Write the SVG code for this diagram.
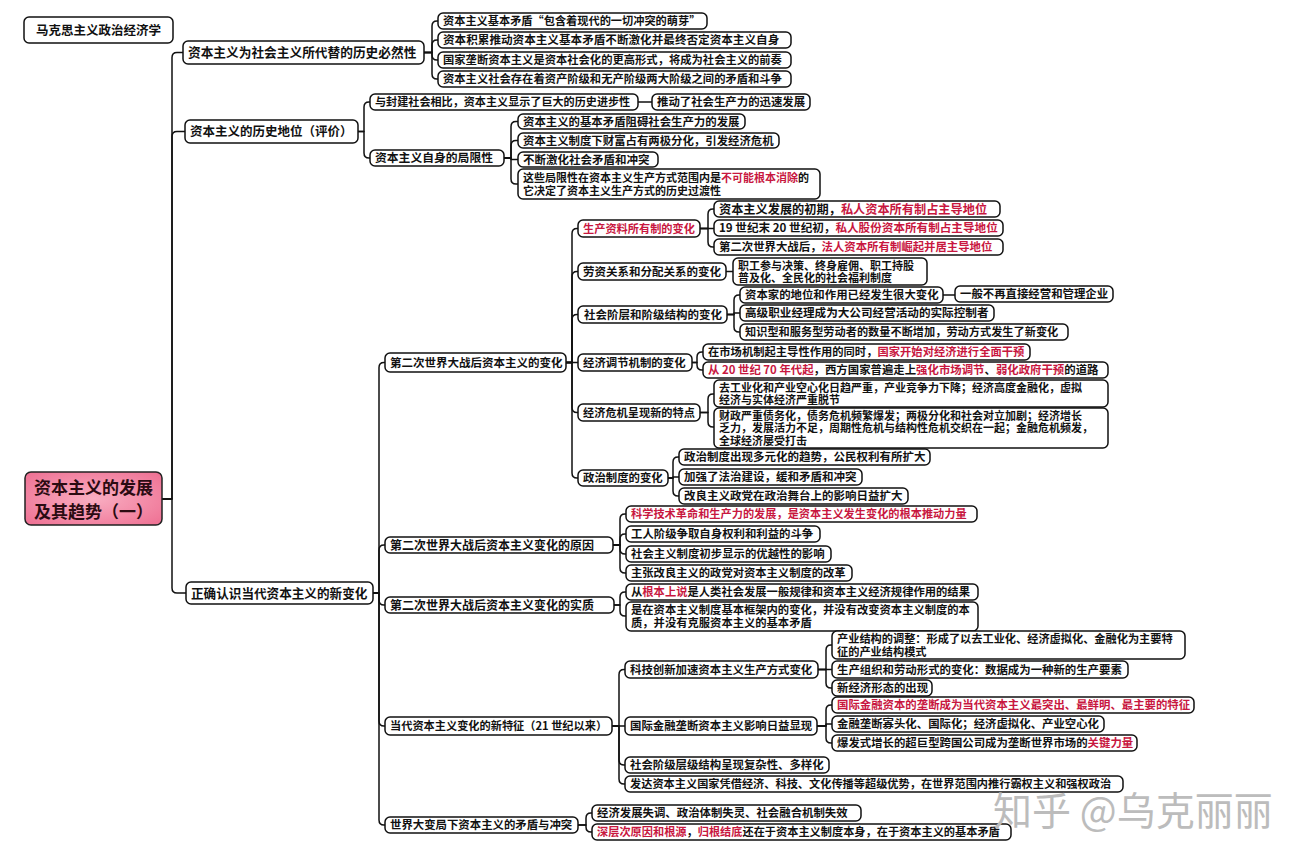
<svg xmlns="http://www.w3.org/2000/svg" width="1309" height="864" viewBox="0 0 1309 864">
<defs>
<radialGradient id="pink" cx="50%" cy="50%" r="70%">
<stop offset="0" stop-color="#f9aec2"/>
<stop offset="1" stop-color="#ee6f92"/>
</radialGradient>
<style>
.b{fill:#fff;stroke:#111;stroke-width:1.5}
.t{font-family:"Noto Sans CJK SC","Noto Sans",sans-serif;font-weight:700;fill:#111}
.r{fill:#c8173f}
.c{fill:none;stroke:#111;stroke-width:1.5;stroke-linecap:round;stroke-linejoin:round}
.wm{font-family:"Noto Sans CJK SC","Noto Sans",sans-serif;font-weight:400;fill:#bcbcbc}
</style>
</defs>
<rect width="1309" height="864" fill="#fff"/>

<g id="connectors">
<path class="c" d="M162,499 H172 V57.5 Q172,52.5 177,52.5 H183"/>
<path class="c" d="M162,499 H172 V136.5 Q172,131.5 177,131.5 H185"/>
<path class="c" d="M162,499 H172 V588 Q172,593 177,593 H186"/>
<path class="c" d="M424,52.5 H432 V26 Q432,21 437,21 H438"/>
<path class="c" d="M424,52.5 H432 V45 Q432,40 437,40 H438"/>
<path class="c" d="M424,52.5 H432 V55 Q432,60 437,60 H438"/>
<path class="c" d="M424,52.5 H432 V74 Q432,79 437,79 H438"/>
<path class="c" d="M358,131.5 H364 V107 Q364,102 369,102 H370"/>
<path class="c" d="M358,131.5 H364 V153 Q364,158 369,158 H370"/>
<path class="c" d="M638,102 H652"/>
<path class="c" d="M504,158 H511 V126.5 Q511,121.5 516,121.5 H518"/>
<path class="c" d="M504,158 H511 V145.5 Q511,140.5 516,140.5 H518"/>
<path class="c" d="M504,158 H511 V159.5 H518"/>
<path class="c" d="M504,158 H511 V179 Q511,184 516,184 H518"/>
<path class="c" d="M373,593 H379 V367.5 Q379,362.5 384,362.5 H385"/>
<path class="c" d="M373,593 H379 V550 Q379,545 384,545 H385"/>
<path class="c" d="M373,593 H379 V600 Q379,605 384,605 H385"/>
<path class="c" d="M373,593 H379 V721 Q379,726 384,726 H385"/>
<path class="c" d="M373,593 H379 V820 Q379,825 384,825 H385"/>
<path class="c" d="M566,362.5 H572 V233.5 Q572,228.5 577,228.5 H578"/>
<path class="c" d="M566,362.5 H572 V276.5 Q572,271.5 577,271.5 H578"/>
<path class="c" d="M566,362.5 H572 V319.5 Q572,314.5 577,314.5 H578"/>
<path class="c" d="M566,362.5 H578"/>
<path class="c" d="M566,362.5 H572 V407.5 Q572,412.5 577,412.5 H578"/>
<path class="c" d="M566,362.5 H572 V473 Q572,478 577,478 H578"/>
<path class="c" d="M700,228.5 H708 V214 Q708,209 713,209 H714"/>
<path class="c" d="M700,228.5 H714"/>
<path class="c" d="M700,228.5 H708 V242 Q708,247 713,247 H714"/>
<path class="c" d="M726,271.5 H733"/>
<path class="c" d="M727,314.5 H734 V300 Q734,295 739,295 H740"/>
<path class="c" d="M727,314.5 H734 V313 H740"/>
<path class="c" d="M727,314.5 H734 V327 Q734,332 739,332 H740"/>
<path class="c" d="M943,295 H955"/>
<path class="c" d="M692,362.5 H697 V357 Q697,352 702,352 H703"/>
<path class="c" d="M692,362.5 H697 V365 Q697,370 702,370 H703"/>
<path class="c" d="M700,412.5 H708 V399 Q708,394 713,394 H714"/>
<path class="c" d="M700,412.5 H708 V422 Q708,427 713,427 H714"/>
<path class="c" d="M668,478 H673 V462 Q673,457 678,457 H679"/>
<path class="c" d="M668,478 H673 V477 H679"/>
<path class="c" d="M668,478 H673 V491 Q673,496 678,496 H679"/>
<path class="c" d="M613,545 H620 V519 Q620,514 625,514 H626"/>
<path class="c" d="M613,545 H620 V539 Q620,534 625,534 H626"/>
<path class="c" d="M613,545 H620 V549 Q620,554 625,554 H626"/>
<path class="c" d="M613,545 H620 V568 Q620,573 625,573 H626"/>
<path class="c" d="M614,605 H620 V597 Q620,592 625,592 H626"/>
<path class="c" d="M614,605 H620 V611 Q620,616 625,616 H626"/>
<path class="c" d="M612,726 H619 V674.5 Q619,669.5 624,669.5 H625"/>
<path class="c" d="M612,726 H625"/>
<path class="c" d="M612,726 H619 V760 Q619,765 624,765 H625"/>
<path class="c" d="M612,726 H619 V779 Q619,784 624,784 H625"/>
<path class="c" d="M818,669.5 H826 V650 Q826,645 831,645 H832"/>
<path class="c" d="M818,669.5 H832"/>
<path class="c" d="M818,669.5 H826 V683 Q826,688 831,688 H832"/>
<path class="c" d="M817,726 H826 V710 Q826,705 831,705 H832"/>
<path class="c" d="M817,726 H826 V724 H832"/>
<path class="c" d="M817,726 H826 V738 Q826,743 831,743 H832"/>
<path class="c" d="M578,825 H586 V818 Q586,813 591,813 H592"/>
<path class="c" d="M578,825 H586 V827 Q586,832 591,832 H592"/>
</g>

<g id="title"><rect class="b" x="24" y="17" width="149" height="26" rx="5"/><text class="t" x="98.5" y="35" font-size="12.5" text-anchor="middle">马克思主义政治经济学</text></g>

<g id="root"><rect x="25" y="472" width="137" height="53" rx="6" fill="url(#pink)" stroke="#222" stroke-width="1.5"/>
<text class="t" font-size="17" text-anchor="middle" style="fill:#2b0b12"><tspan x="93.5" y="494">资本主义的发展</tspan><tspan x="93.5" y="518">及其趋势（一）</tspan></text></g>

<g id="n1"><rect class="b" x="183" y="41" width="241" height="23" rx="5"/><text class="t" x="188" y="57.3" font-size="12.7">资本主义为社会主义所代替的历史必然性</text></g>
<g id="n1a"><rect class="b" x="438" y="13" width="269" height="16" rx="5"/><text class="t" x="443" y="25.3" font-size="11.2">资本主义基本矛盾“包含着现代的一切冲突的萌芽”</text></g>
<g id="n1b"><rect class="b" x="438" y="32" width="353" height="16" rx="5"/><text class="t" x="443" y="44.4" font-size="11.6">资本积累推动资本主义基本矛盾不断激化并最终否定资本主义自身</text></g>
<g id="n1c"><rect class="b" x="438" y="52" width="353" height="16" rx="5"/><text class="t" x="443" y="64.3" font-size="11.3">国家垄断资本主义是资本社会化的更高形式，将成为社会主义的前奏</text></g>
<g id="n1d"><rect class="b" x="438" y="71" width="353" height="16" rx="5"/><text class="t" x="443" y="83.3" font-size="11.3">资本主义社会存在着资产阶级和无产阶级两大阶级之间的矛盾和斗争</text></g>

<g id="n2"><rect class="b" x="185" y="120" width="173" height="23" rx="5"/><text class="t" x="190" y="136.3" font-size="12.5">资本主义的历史地位（评价）</text></g>
<g id="n2a"><rect class="b" x="370" y="94" width="268" height="16" rx="5"/><text class="t" x="375" y="106.3" font-size="11.1">与封建社会相比，资本主义显示了巨大的历史进步性</text></g>
<g id="n2a1"><rect class="b" x="652" y="94" width="158" height="16" rx="5"/><text class="t" x="657" y="106.3" font-size="11.4">推动了社会生产力的迅速发展</text></g>
<g id="n2b"><rect class="b" x="370" y="150" width="134" height="16" rx="5"/><text class="t" x="375" y="162.4" font-size="11.8">资本主义自身的局限性</text></g>
<g id="n2b1"><rect class="b" x="518" y="114" width="227" height="15" rx="5"/><text class="t" x="523" y="125.8" font-size="11.4">资本主义的基本矛盾阻碍社会生产力的发展</text></g>
<g id="n2b2"><rect class="b" x="518" y="133" width="261" height="15" rx="5"/><text class="t" x="523" y="144.8" font-size="11.4">资本主义制度下财富占有两极分化，引发经济危机</text></g>
<g id="n2b3"><rect class="b" x="518" y="152" width="140" height="15" rx="5"/><text class="t" x="523" y="163.8" font-size="11.5">不断激化社会矛盾和冲突</text></g>
<g id="n2b4"><rect class="b" x="518" y="169" width="302" height="30" rx="5"/><text class="t" font-size="11"><tspan x="523" y="181.5">这些局限性在资本主义生产方式范围内是<tspan class="r">不可能根本消除</tspan>的</tspan><tspan x="523" y="195">它决定了资本主义生产方式的历史过渡性</tspan></text></g>

<g id="n3"><rect class="b" x="186" y="582" width="187" height="22" rx="5"/><text class="t" x="191" y="597.8" font-size="12.6">正确认识当代资本主义的新变化</text></g>

<g id="v"><rect class="b" x="385" y="353" width="181" height="19" rx="5"/><text class="t" x="390" y="366.8" font-size="11.5">第二次世界大战后资本主义的变化</text></g>
<g id="v1"><rect class="b" x="578" y="220" width="122" height="17" rx="5"/><text class="t r" x="583" y="232.8" font-size="11.2">生产资料所有制的变化</text></g>
<g id="v1a"><rect class="b" x="714" y="201" width="286" height="16" rx="5"/><text class="t" x="719" y="213.6" font-size="12.2">资本主义发展的初期，<tspan class="r">私人资本所有制占主导地位</tspan></text></g>
<g id="v1b"><rect class="b" x="714" y="220" width="289" height="16" rx="5"/><text class="t" x="719" y="232.4" font-size="11.6">19 世纪末 20 世纪初，<tspan class="r">私人股份资本所有制占主导地位</tspan></text></g>
<g id="v1c"><rect class="b" x="714" y="239" width="289" height="16" rx="5"/><text class="t" x="719" y="251.4" font-size="11.4">第二次世界大战后，<tspan class="r">法人资本所有制崛起并居主导地位</tspan></text></g>
<g id="v2"><rect class="b" x="578" y="263" width="148" height="17" rx="5"/><text class="t" x="583" y="275.8" font-size="11.5">劳资关系和分配关系的变化</text></g>
<g id="v2a"><rect class="b" x="733" y="258" width="194" height="27" rx="5"/><text class="t" font-size="11"><tspan x="738" y="269.5">职工参与决策、终身雇佣、职工持股</tspan><tspan x="738" y="282">普及化、全民化的社会福利制度</tspan></text></g>
<g id="v3"><rect class="b" x="578" y="306" width="149" height="17" rx="5"/><text class="t" x="584" y="318.8" font-size="11.5">社会阶层和阶级结构的变化</text></g>
<g id="v3a"><rect class="b" x="740" y="287" width="203" height="16" rx="5"/><text class="t" x="745" y="299.3" font-size="11.4">资本家的地位和作用已经发生很大变化</text></g>
<g id="v3a1"><rect class="b" x="955" y="286" width="158" height="16" rx="5"/><text class="t" x="960" y="298.3" font-size="11.4">一般不再直接经营和管理企业</text></g>
<g id="v3b"><rect class="b" x="740" y="305" width="254" height="16" rx="5"/><text class="t" x="745" y="317.4" font-size="11.6">高级职业经理成为大公司经营活动的实际控制者</text></g>
<g id="v3c"><rect class="b" x="740" y="324" width="328" height="16" rx="5"/><text class="t" x="745" y="336.3" font-size="11.2">知识型和服务型劳动者的数量不断增加，劳动方式发生了新变化</text></g>
<g id="v4"><rect class="b" x="578" y="354" width="114" height="17" rx="5"/><text class="t" x="583" y="366.8" font-size="11.4">经济调节机制的变化</text></g>
<g id="v4a"><rect class="b" x="703" y="344" width="327" height="16" rx="5"/><text class="t" x="708" y="356.3" font-size="11.3">在市场机制起主导性作用的同时，<tspan class="r">国家开始对经济进行全面干预</tspan></text></g>
<g id="v4b"><rect class="b" x="703" y="362" width="405" height="16" rx="5"/><text class="t" x="708" y="374.3" font-size="11.4"><tspan class="r">从 20 世纪 70 年代起</tspan>，西方国家普遍走上<tspan class="r">强化市场调节</tspan>、<tspan class="r">弱化政府干预</tspan>的道路</text></g>
<g id="v5"><rect class="b" x="578" y="404" width="122" height="17" rx="5"/><text class="t" x="583" y="416.8" font-size="11.2">经济危机呈现新的特点</text></g>
<g id="v5a"><rect class="b" x="714" y="380" width="394" height="27" rx="5"/><text class="t" font-size="11"><tspan x="719" y="391.5">去工业化和产业空心化日趋严重，产业竞争力下降；经济高度金融化，虚拟</tspan><tspan x="719" y="404">经济与实体经济严重脱节</tspan></text></g>
<g id="v5b"><rect class="b" x="714" y="408" width="394" height="40" rx="5"/><text class="t" font-size="11"><tspan x="719" y="419.5">财政严重债务化，债务危机频繁爆发；两极分化和社会对立加剧；经济增长</tspan><tspan x="719" y="432">乏力，发展活力不足，周期性危机与结构性危机交织在一起；金融危机频发，</tspan><tspan x="719" y="444.5">全球经济屡受打击</tspan></text></g>
<g id="v6"><rect class="b" x="578" y="470" width="90" height="16" rx="5"/><text class="t" x="583" y="482.3" font-size="11.4">政治制度的变化</text></g>
<g id="v6a"><rect class="b" x="679" y="449" width="251" height="16" rx="5"/><text class="t" x="684" y="461.4" font-size="11.5">政治制度出现多元化的趋势，公民权利有所扩大</text></g>
<g id="v6b"><rect class="b" x="679" y="469" width="183" height="16" rx="5"/><text class="t" x="684" y="481.4" font-size="11.5">加强了法治建设，缓和矛盾和冲突</text></g>
<g id="v6c"><rect class="b" x="679" y="488" width="229" height="16" rx="5"/><text class="t" x="684" y="500.4" font-size="11.5">改良主义政党在政治舞台上的影响日益扩大</text></g>

<g id="r"><rect class="b" x="385" y="537" width="228" height="16" rx="5"/><text class="t" x="390" y="549.5" font-size="12">第二次世界大战后资本主义变化的原因</text></g>
<g id="r1"><rect class="b" x="626" y="506" width="351" height="16" rx="5"/><text class="t r" x="631" y="518.3" font-size="11.2">科学技术革命和生产力的发展，是资本主义发生变化的根本推动力量</text></g>
<g id="r2"><rect class="b" x="626" y="526" width="194" height="16" rx="5"/><text class="t" x="631" y="538.3" font-size="11.4">工人阶级争取自身权利和利益的斗争</text></g>
<g id="r3"><rect class="b" x="626" y="546" width="205" height="16" rx="5"/><text class="t" x="631" y="558.3" font-size="11.4">社会主义制度初步显示的优越性的影响</text></g>
<g id="r4"><rect class="b" x="626" y="565" width="226" height="16" rx="5"/><text class="t" x="631" y="577.3" font-size="11.3">主张改良主义的政党对资本主义制度的改革</text></g>

<g id="s"><rect class="b" x="385" y="597" width="229" height="16" rx="5"/><text class="t" x="390" y="609.5" font-size="12">第二次世界大战后资本主义变化的实质</text></g>
<g id="s1"><rect class="b" x="626" y="584" width="352" height="16" rx="5"/><text class="t" x="631" y="596.3" font-size="11.3">从<tspan class="r">根本上说</tspan>是人类社会发展一般规律和资本主义经济规律作用的结果</text></g>
<g id="s2"><rect class="b" x="626" y="602" width="352" height="29" rx="5"/><text class="t" font-size="11.3"><tspan x="631" y="614">是在资本主义制度基本框架内的变化，并没有改变资本主义制度的本</tspan><tspan x="631" y="627">质，并没有克服资本主义的基本矛盾</tspan></text></g>

<g id="f"><rect class="b" x="385" y="717" width="227" height="18" rx="5"/><text class="t" x="390" y="730.3" font-size="11.2">当代资本主义变化的新特征（21 世纪以来）</text></g>
<g id="f1"><rect class="b" x="625" y="661" width="193" height="17" rx="5"/><text class="t" x="630" y="673.8" font-size="11.4">科技创新加速资本主义生产方式变化</text></g>
<g id="f1a"><rect class="b" x="832" y="631" width="353" height="28" rx="5"/><text class="t" font-size="11.2"><tspan x="837" y="642.5">产业结构的调整：形成了以去工业化、经济虚拟化、金融化为主要特</tspan><tspan x="837" y="655.5">征的产业结构模式</tspan></text></g>
<g id="f1b"><rect class="b" x="832" y="661" width="296" height="17" rx="5"/><text class="t" x="837" y="673.8" font-size="11.4">生产组织和劳动形式的变化：数据成为一种新的生产要素</text></g>
<g id="f1c"><rect class="b" x="832" y="680" width="100" height="16" rx="5"/><text class="t" x="837" y="692.3" font-size="11.4">新经济形态的出现</text></g>
<g id="f2"><rect class="b" x="625" y="717" width="192" height="18" rx="5"/><text class="t" x="630" y="730.3" font-size="11.4">国际金融垄断资本主义影响日益显现</text></g>
<g id="f2a"><rect class="b" x="832" y="697" width="362" height="16" rx="5"/><text class="t r" x="837" y="709.3" font-size="11.4">国际金融资本的垄断成为当代资本主义最突出、最鲜明、最主要的特征</text></g>
<g id="f2b"><rect class="b" x="832" y="716" width="272" height="16" rx="5"/><text class="t" x="837" y="728.3" font-size="11.4">金融垄断寡头化、国际化；经济虚拟化、产业空心化</text></g>
<g id="f2c"><rect class="b" x="832" y="735" width="305" height="16" rx="5"/><text class="t" x="837" y="747.3" font-size="11.4">爆发式增长的超巨型跨国公司成为垄断世界市场的<tspan class="r">关键力量</tspan></text></g>
<g id="f3"><rect class="b" x="625" y="757" width="204" height="16" rx="5"/><text class="t" x="630" y="769.3" font-size="11.4">社会阶级层级结构呈现复杂性、多样化</text></g>
<g id="f4"><rect class="b" x="625" y="776" width="498" height="16" rx="5"/><text class="t" x="630" y="788.3" font-size="11.2">发达资本主义国家凭借经济、科技、文化传播等超级优势，在世界范围内推行霸权主义和强权政治</text></g>

<g id="c"><rect class="b" x="385" y="817" width="193" height="16" rx="5"/><text class="t" x="390" y="829.3" font-size="11.4">世界大变局下资本主义的矛盾与冲突</text></g>
<g id="c1"><rect class="b" x="592" y="805" width="269" height="16" rx="5"/><text class="t" x="597" y="817.3" font-size="11.4">经济发展失调、政治体制失灵、社会融合机制失效</text></g>
<g id="c2"><rect class="b" x="592" y="824" width="419" height="16" rx="5"/><text class="t" x="597" y="836.3" font-size="11.2"><tspan class="r">深层次原因和根源</tspan>，<tspan class="r">归根结底</tspan>还在于资本主义制度本身，在于资本主义的基本矛盾</text></g>

<g id="watermark"><text class="wm" x="993" y="825" font-size="39">知乎 @乌克丽丽</text></g>
</svg>
